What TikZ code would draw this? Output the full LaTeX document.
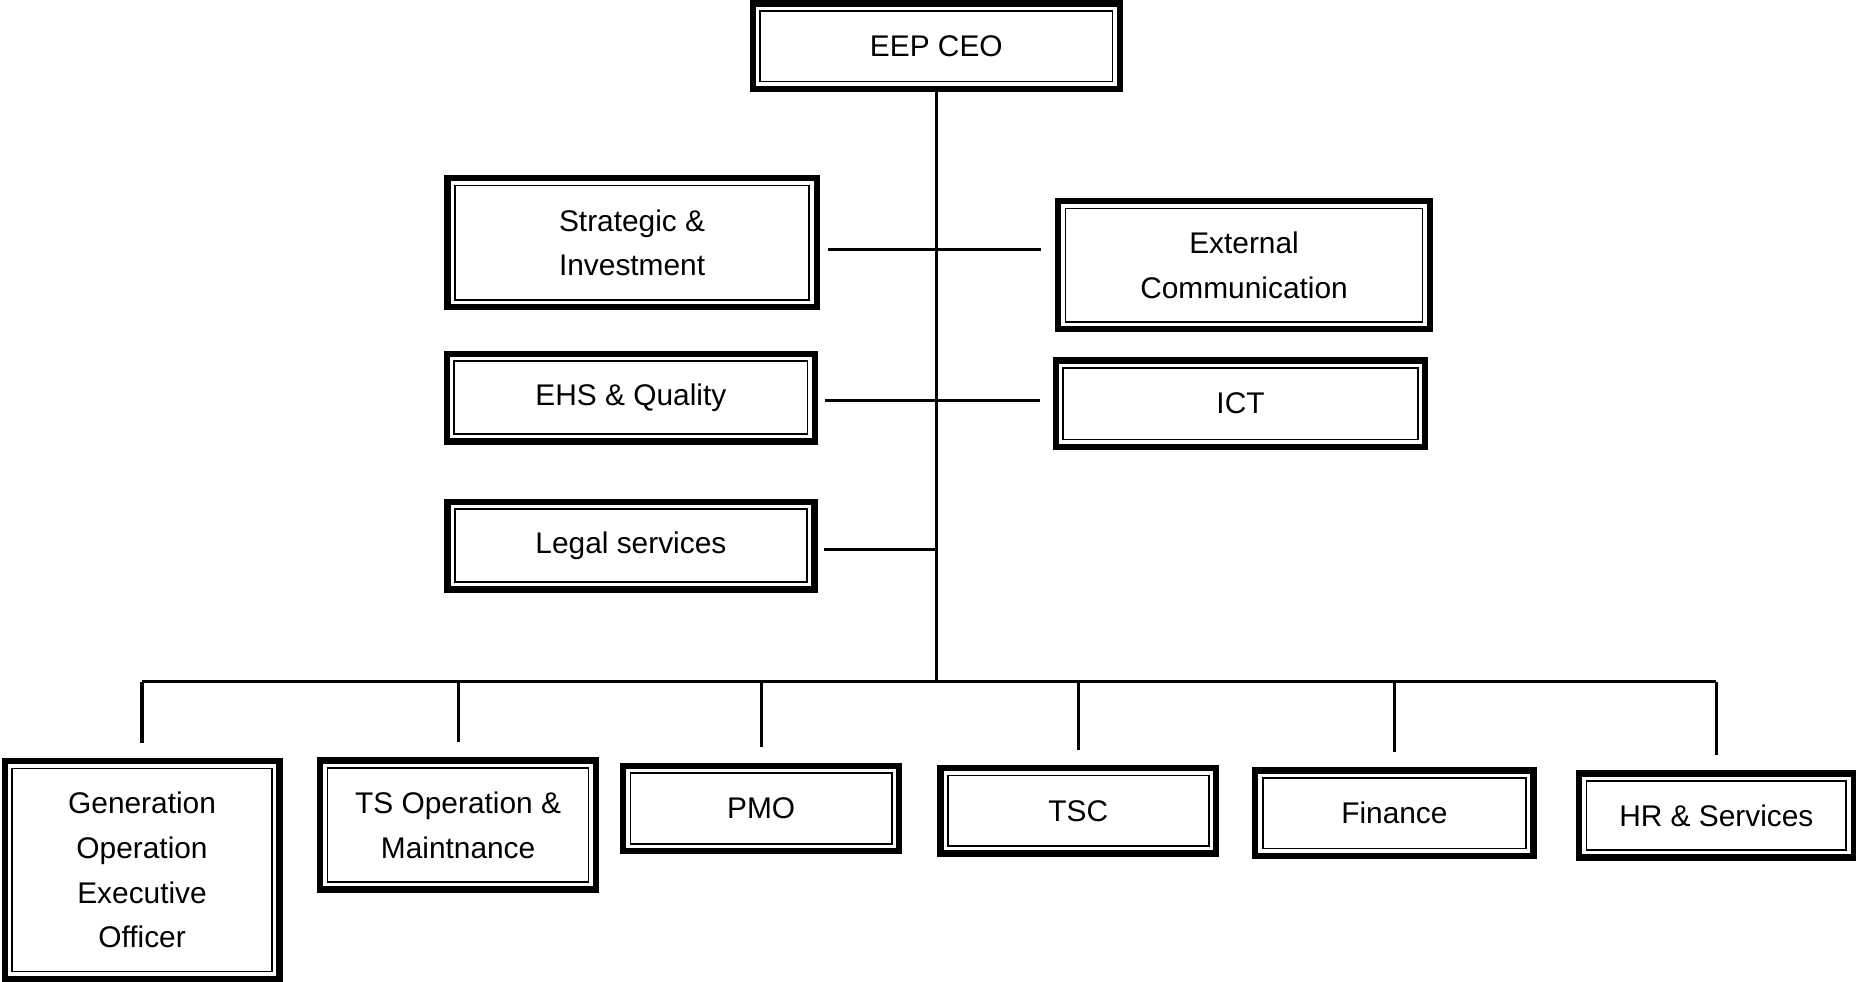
\documentclass[tikz,border=0pt]{standalone}
\usepackage{fontspec}
\setmainfont{Liberation Sans}
\def\px{0.011837cm}

\begin{document}
\begin{tikzpicture}[x=\px, y=-\px,
  box/.style={rectangle, draw, line width=1.8pt, align=center, inner sep=0pt,
    font=\fontsize{8.5}{12.7}\selectfont,
    path picture={\draw[line width=0.5pt] ([shift={(2.1pt,2.1pt)}]path picture bounding box.south west) rectangle ([shift={(-2.1pt,-2.1pt)}]path picture bounding box.north east);}},
  link/.style={line width=0.9pt}]

  \useasboundingbox (0,0) rectangle (1568,829);

  \node[box, minimum width=310*\px, minimum height=72*\px] (ceo) at (791,39) {EEP CEO};

  \node[box, minimum width=312*\px, minimum height=109*\px] (strat) at (534,205) {Strategic \&\\Investment};
  \node[box, minimum width=314*\px, minimum height=108*\px] (extcom) at (1051,224) {External\\Communication};
  \node[box, minimum width=311*\px, minimum height=74*\px] (ehs) at (533,336) {EHS \& Quality};
  \node[box, minimum width=312*\px, minimum height=73*\px] (ict) at (1048,341) {ICT};
  \node[box, minimum width=310*\px, minimum height=74*\px] (legal) at (533,461) {Legal services};

  \node[box, minimum width=232*\px, minimum height=184*\px] (gen) at (120,735) {Generation\\Operation\\Executive\\Officer};
  \node[box, minimum width=233*\px, minimum height=109*\px] (tsom) at (387,697) {TS Operation \&\\Maintnance};
  \node[box, minimum width=233*\px, minimum height=72*\px] (pmo) at (643,683) {PMO};
  \node[box, minimum width=233*\px, minimum height=72*\px] (tsc) at (911,685) {TSC};
  \node[box, minimum width=235*\px, minimum height=72*\px] (fin) at (1178,687) {Finance};
  \node[box, minimum width=232*\px, minimum height=71*\px] (hr) at (1450,689) {HR \& Services};

  \coordinate (j1) at (791,211);
  \coordinate (j2) at (791,338);
  \coordinate (j3) at (791,464);
  \coordinate (bus) at (791,576);

  \draw[link] (ceo.south) -- (bus);
  \draw[link, shorten <=2.4pt, shorten >=4pt] (strat.east |- j1) -- (extcom.west |- j1);
  \draw[link, shorten <=2pt, shorten >=3.7pt] (ehs.east |- j2) -- (ict.west |- j2);
  \draw[link, shorten <=1.7pt] (legal.east |- j3) -- (j3);

  \draw[link] (gen.north |- bus) -- (hr.north |- bus);
  \foreach \n in {gen,tsom,pmo,tsc,fin,hr}
    \draw[link, shorten >=4.4pt] (\n.north |- bus) -- (\n.north);
\end{tikzpicture}
\end{document}
